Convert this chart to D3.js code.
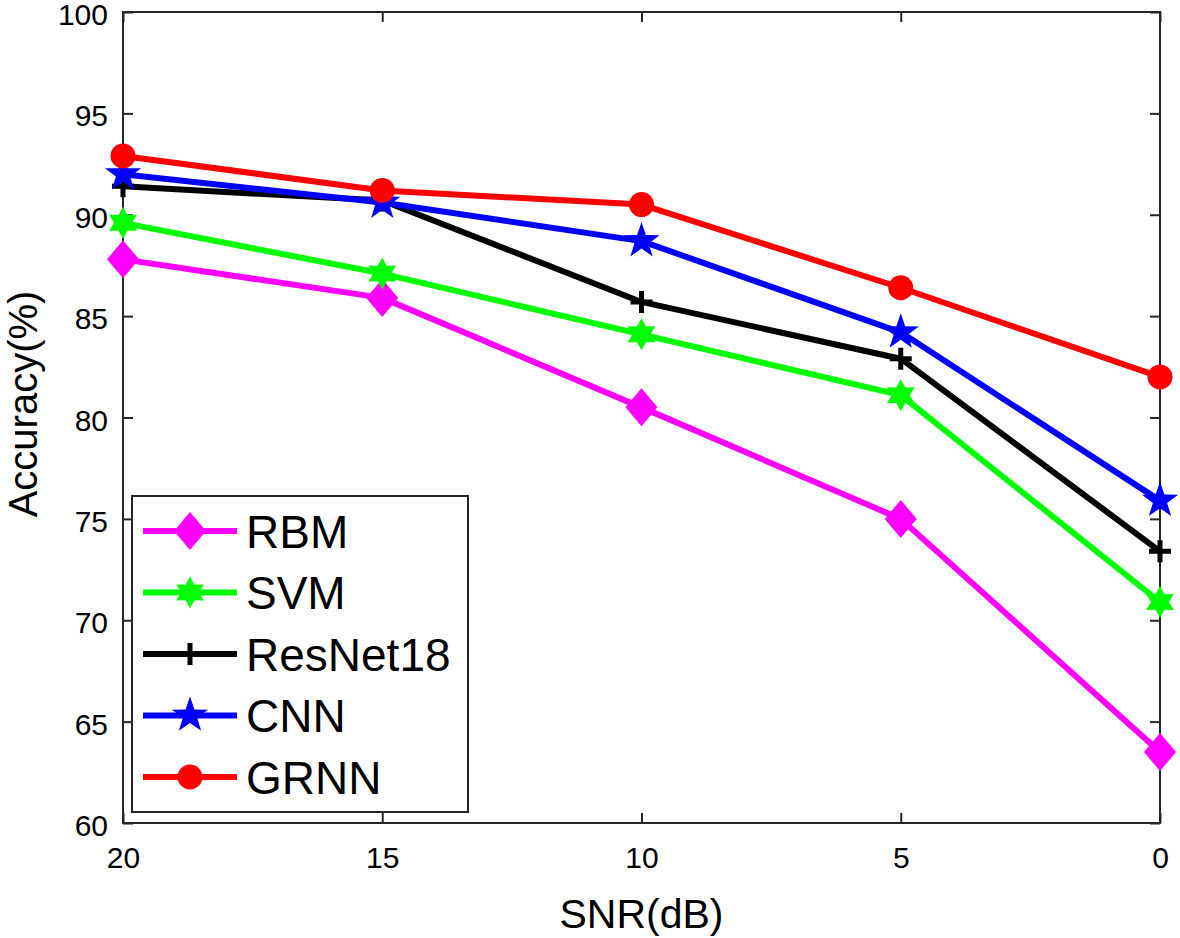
<!DOCTYPE html>
<html><head><meta charset="utf-8">
<script src="https://cdn.jsdelivr.net/npm/d3@7"></script>
<style>body{margin:0;background:#fff}svg{display:block}text{font-family:Arial,"Liberation Sans",sans-serif;fill:#000}</style>
</head><body>
<svg id="c" width="1180" height="938"></svg>
<script>
const snr = [20, 15, 10, 5, 0];
const xTicks = [20, 15, 10, 5, 0];
const yTicks = [60, 65, 70, 75, 80, 85, 90, 95, 100];
const seriesNames = ["RBM", "SVM", "ResNet18", "CNN", "GRNN"];
const seriesColors = ["#ff00ff", "#00ff00", "#000000", "#0000ff", "#ff0000"];
const seriesMarkers = ["diamond", "hexagram", "plus", "pentagram", "circle"];
const rbm = [87.8, 85.9, 80.5, 75.0, 63.5];
const svmV = [89.6, 87.1, 84.1, 81.1, 70.9];
const resnet18 = [91.4, 90.7, 85.7, 82.9, 73.4];
const cnn = [92.0, 90.6, 88.7, 84.2, 75.9];
const grnn = [92.9, 91.2, 90.5, 86.4, 82.0];
const allValues = [rbm, svmV, resnet18, cnn, grnn];

const svg = d3.select("#c");
const L = 123, R = 1160, T = 12, B = 823;
const x = d3.scaleLinear().domain([20, 0]).range([L, R]);
const y = d3.scaleLinear().domain([60, 100]).range([B, T]);
const axc = "#262626";

svg.append("rect").attr("x", L).attr("y", T).attr("width", R - L).attr("height", B - T)
  .attr("fill", "none").attr("stroke", axc).attr("stroke-width", 2);

const tl = 10;
const gx = svg.append("g").attr("transform", `translate(0,${B})`)
  .call(d3.axisBottom(x).tickValues(xTicks).tickSize(-tl).tickPadding(tl + 14).tickFormat(d3.format("d")));
const gxt = svg.append("g").attr("transform", `translate(0,${T})`)
  .call(d3.axisTop(x).tickValues(xTicks).tickSize(-tl).tickFormat(""));
const gy = svg.append("g").attr("transform", `translate(${L},0)`)
  .call(d3.axisLeft(y).tickValues(yTicks).tickSize(-tl).tickPadding(tl + 5).tickFormat(d3.format("d")));
const gyr = svg.append("g").attr("transform", `translate(${R},0)`)
  .call(d3.axisRight(y).tickValues(yTicks).tickSize(-tl).tickFormat(""));
[gx, gxt, gy, gyr].forEach(g => {
  g.select(".domain").remove();
  g.selectAll("line").attr("stroke", axc).attr("stroke-width", 2);
  g.selectAll("text").style("font-size", "30px").attr("fill", "#262626");
});
gy.selectAll("text").attr("dy", "0.42em");

svg.append("text").attr("x", (L + R) / 2).attr("y", 928).attr("text-anchor", "middle")
  .style("font-size", "41px").attr("fill", "#262626").text("SNR(dB)");
svg.append("text").attr("transform", `translate(37,404) rotate(-90)`).attr("text-anchor", "middle")
  .style("font-size", "40px").attr("fill", "#262626").text("Accuracy(%)");

function markerPath(type) {
  if (type === "diamond") return "M0,-19L16,0L0,19L-16,0Z";
  if (type === "circle") return d3.symbol().type(d3.symbolCircle).size(Math.PI * 12.5 * 12.5)();
  if (type === "pentagram") {
    let p = [];
    for (let i = 0; i < 10; i++) {
      const r = i % 2 ? 7.5 : 19, a = -Math.PI / 2 + i * Math.PI / 5;
      p.push([r * Math.cos(a), r * Math.sin(a)]);
    }
    return "M" + p.join("L") + "Z";
  }
  if (type === "hexagram") {
    let p = [];
    for (let i = 0; i < 12; i++) {
      const r = i % 2 ? 9 : 16, a = -Math.PI / 2 + i * Math.PI / 6;
      p.push([r * Math.cos(a), r * Math.sin(a)]);
    }
    return "M" + p.join("L") + "Z";
  }
  return null;
}
function drawMarker(g, type, color, cx, cy) {
  if (type === "plus") {
    g.append("path").attr("d", `M${cx - 11},${cy}H${cx + 11}M${cx},${cy - 11}V${cy + 11}`)
      .attr("stroke", color).attr("stroke-width", 5).attr("fill", "none");
  } else {
    g.append("path").attr("d", markerPath(type)).attr("transform", `translate(${cx},${cy})`)
      .attr("fill", color).attr("stroke", "none");
  }
}

const line = d3.line().x(d => x(d[0])).y(d => y(d[1]));
allValues.forEach((vals, i) => {
  const pts = snr.map((s, j) => [s, vals[j]]);
  const g = svg.append("g");
  g.append("path").attr("d", line(pts)).attr("fill", "none")
    .attr("stroke", seriesColors[i]).attr("stroke-width", 6).attr("stroke-linejoin", "round");
  pts.forEach(p => drawMarker(g, seriesMarkers[i], seriesColors[i], x(p[0]), y(p[1])));
});

const lg = svg.append("g");
lg.append("rect").attr("x", 132).attr("y", 496).attr("width", 336).attr("height", 316)
  .attr("fill", "#fff").attr("stroke", axc).attr("stroke-width", 2);
const ly0 = 531, ldy = 61.5;
seriesNames.forEach((n, i) => {
  const yy = ly0 + i * ldy;
  lg.append("line").attr("x1", 143).attr("x2", 237).attr("y1", yy).attr("y2", yy)
    .attr("stroke", seriesColors[i]).attr("stroke-width", 6);
  drawMarker(lg, seriesMarkers[i], seriesColors[i], 190, yy);
  lg.append("text").attr("x", 246).attr("y", yy).attr("dy", "0.36em")
    .style("font-size", "46px").text(n);
});
</script>
</body></html>
